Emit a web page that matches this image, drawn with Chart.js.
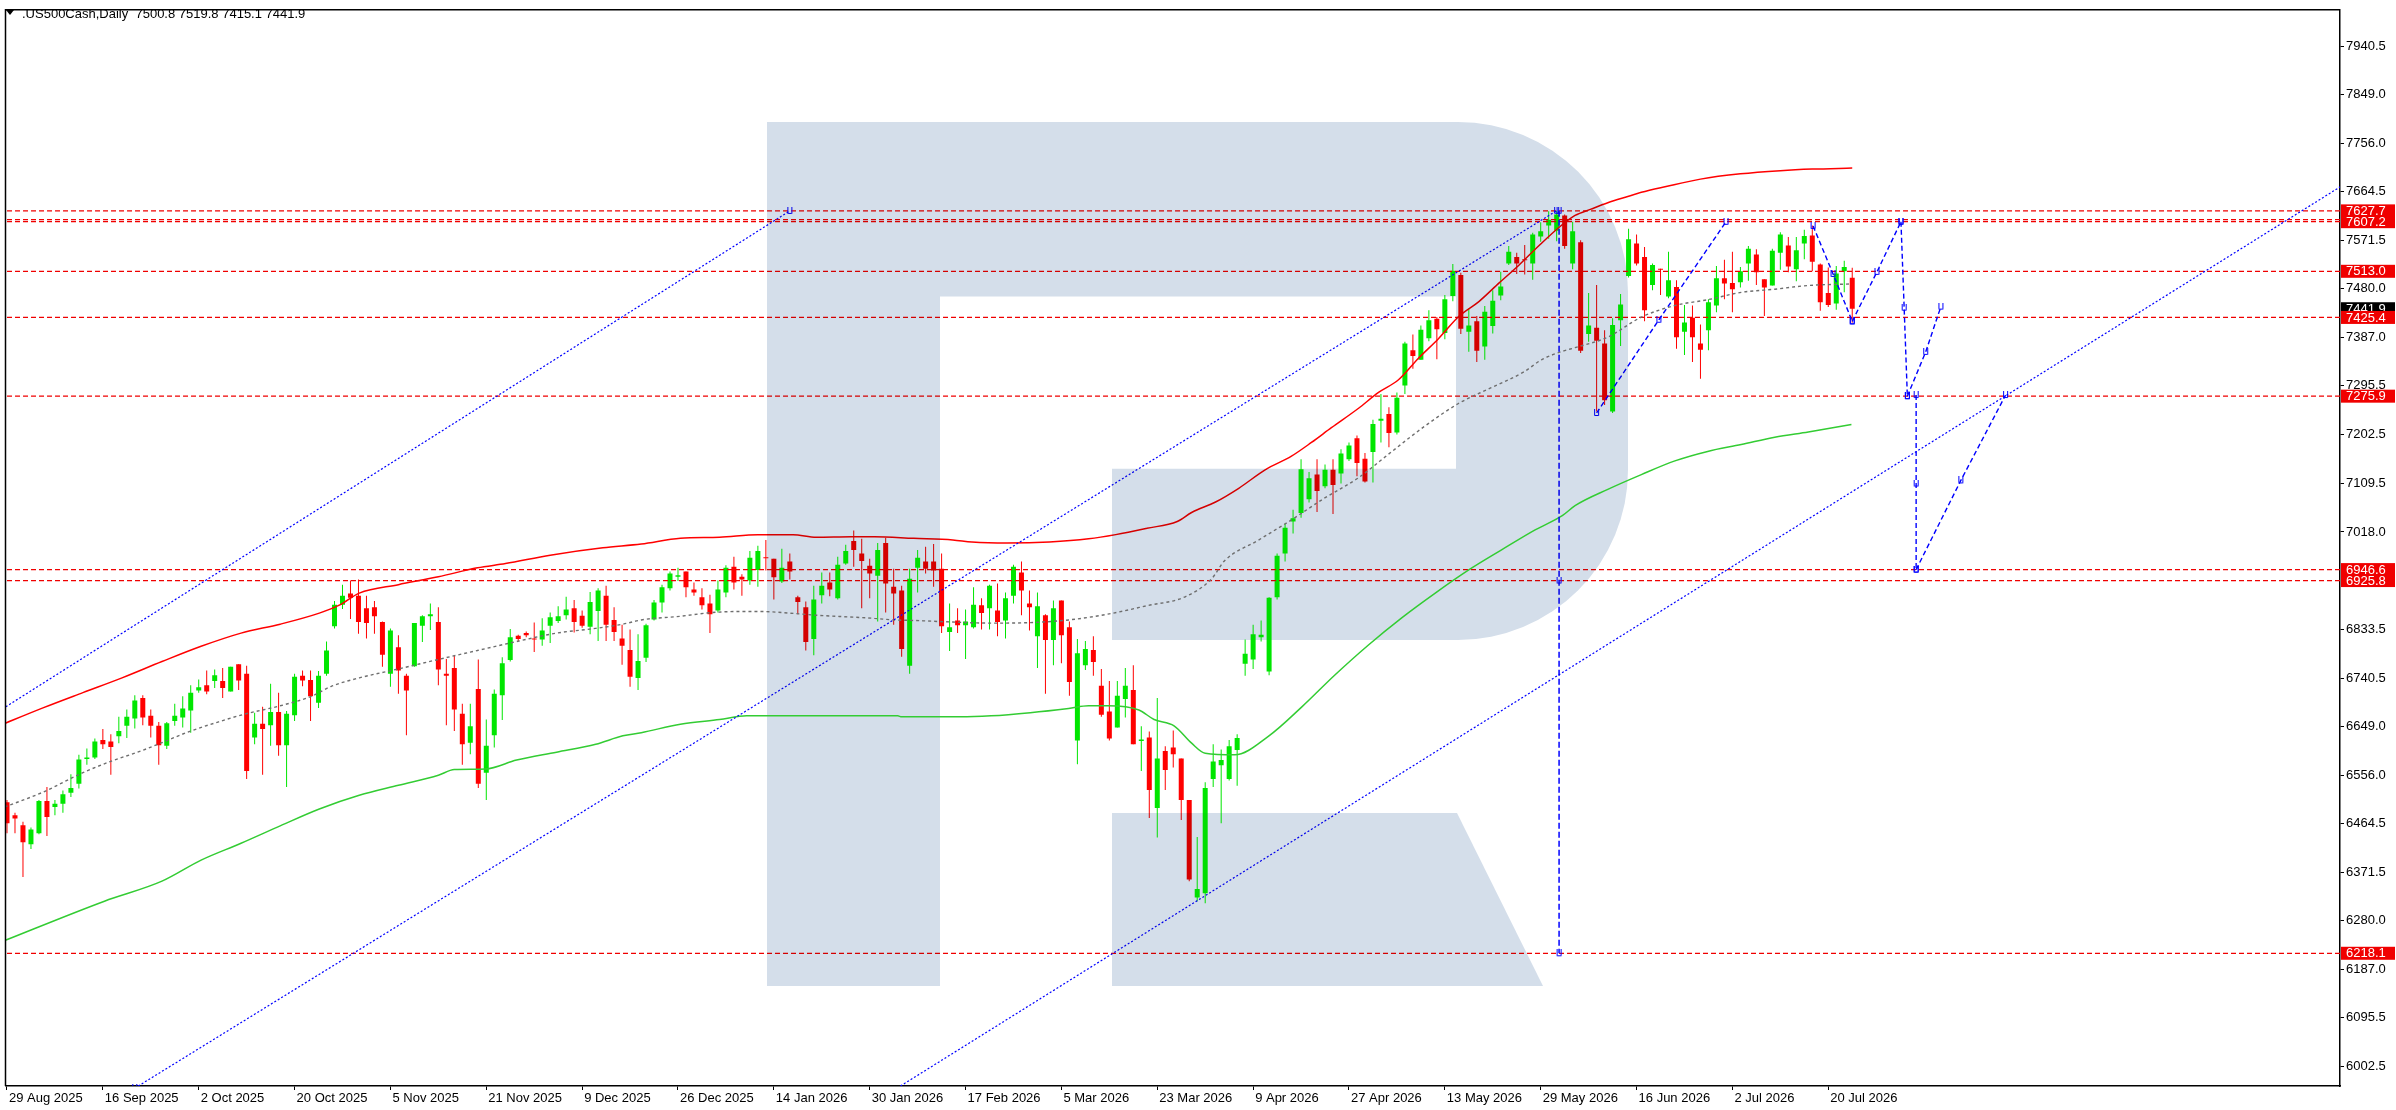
<!DOCTYPE html>
<html><head><meta charset="utf-8">
<script src="https://cdn.jsdelivr.net/npm/chart.js@4.4.1/dist/chart.umd.min.js"></script>
<style>html,body{margin:0;padding:0;background:#fff;overflow:hidden}canvas{display:block}</style>
</head><body>
<canvas id="c" width="2396" height="1110" style="width:2396px;height:1110px"></canvas>
<script>
const symbolTitle = '.US500Cash,Daily';

const opens = [6505,6480,6461,6425,6446,6507,6496,6502,6523,6540,6587,6590,6623,6620,6630,6650,6664,6703,6669,6650,
6612,6659,6666,6679,6717,6727,6735,6735,6715,6767,6749,6628,6654,6651,6676,6613,6670,6745,6737,6694,
6749,6839,6880,6901,6897,6873,6875,6847,6749,6799,6745,6763,6840,6858,6847,6749,6760,6673,6618,6720,
6561,6632,6708,6775,6821,6826,6816,6814,6840,6849,6860,6873,6859,6838,6868,6897,6851,6816,6794,6741,
6779,6852,6884,6911,6933,6943,6909,6894,6882,6869,6903,6952,6933,6926,6946,6969,6967,6924,6962,6894,
6875,6815,6898,6922,6892,6958,7001,6977,6954,6935,6997,6914,6907,6764,6950,6962,6962,6948,6828,6850,
6841,6837,6879,6873,6869,6850,6897,6941,6882,6820,6860,6813,6888,6837,6622,6765,6794,6726,6677,6647,
6701,6718,6621,6628,6494,6602,6609,6588,6509,6324,6332,6549,6575,6549,6604,6768,6776,6818,6753,6894,
6977,7038,7054,7080,7127,7105,7136,7129,7156,7196,7157,7170,7229,7242,7207,7296,7363,7345,7386,7423,
7396,7466,7506,7398,7418,7370,7409,7467,7528,7540,7536,7528,7579,7600,7590,7619,7528,7568,7394,7406,
7376,7247,7420,7504,7566,7540,7487,7517,7465,7483,7398,7425,7376,7401,7448,7500,7491,7492,7528,7545,
7498,7486,7548,7562,7517,7566,7581,7526,7472,7452,7513,7500.8];
const highs = [6509,6485,6468,6457,6509,6534,6509,6527,6558,6595,6607,6626,6644,6634,6667,6681,6708,6708,6681,6657,
6657,6692,6706,6727,6738,6755,6757,6760,6762,6767,6764,6675,6686,6730,6713,6678,6749,6755,6755,6754,
6810,6887,6918,6926,6928,6897,6887,6848,6835,6822,6749,6845,6860,6882,6875,6777,6784,6692,6692,6776,
6662,6719,6780,6834,6823,6829,6846,6854,6865,6877,6895,6889,6869,6904,6911,6916,6875,6842,6833,6824,
6844,6889,6918,6943,6950,6943,6922,6911,6899,6926,6955,6971,6938,6982,6992,7003,6967,6986,6977,6897,
6886,6916,6941,6941,6971,6994,7021,7005,6967,6997,7007,6948,6916,6948,6984,6990,6995,6977,6882,6873,
6871,6913,6892,6918,6920,6903,6956,6962,6907,6903,6862,6888,6888,6848,6815,6811,6820,6758,6735,6735,
6760,6765,6649,6639,6703,6611,6641,6588,6509,6439,6543,6615,6605,6623,6634,6814,6842,6850,6894,6977,
7034,7060,7156,7132,7156,7146,7156,7175,7188,7201,7168,7231,7280,7255,7283,7379,7393,7410,7439,7426,
7468,7527,7510,7443,7428,7447,7477,7512,7561,7548,7563,7586,7606,7627,7628,7621,7607,7572,7472,7487,
7401,7424,7470,7594,7583,7559,7528,7518,7550,7496,7449,7448,7412,7460,7523,7535,7550,7521,7561,7555,
7498,7556,7587,7578,7578,7592,7600,7528,7520,7523,7533,7519.8];
const lows = [6446,6446,6363,6416,6444,6441,6480,6485,6515,6531,6576,6587,6606,6557,6617,6627,6645,6651,6628,6576,
6606,6650,6647,6637,6713,6710,6722,6703,6715,6718,6549,6615,6557,6612,6593,6534,6659,6725,6659,6684,
6745,6835,6872,6853,6825,6816,6825,6762,6724,6711,6632,6762,6809,6832,6727,6651,6640,6576,6596,6532,
6509,6609,6661,6772,6810,6818,6790,6802,6807,6845,6852,6827,6836,6824,6811,6811,6811,6766,6724,6718,
6771,6850,6865,6907,6925,6894,6897,6871,6826,6865,6894,6909,6897,6918,6914,6945,6890,6921,6928,6862,
6793,6784,6882,6896,6890,6956,6952,6873,6892,6848,6865,6842,6781,6749,6903,6939,6914,6826,6792,6826,
6777,6835,6833,6833,6820,6816,6882,6860,6831,6760,6711,6765,6769,6707,6577,6756,6745,6667,6622,6647,
6666,6615,6564,6475,6438,6528,6571,6471,6355,6317,6313,6534,6465,6546,6536,6745,6758,6810,6746,6890,
6962,7015,7045,7074,7056,7101,7052,7110,7153,7124,7112,7112,7188,7179,7203,7280,7328,7345,7380,7346,
7384,7456,7394,7360,7341,7345,7395,7458,7525,7508,7507,7497,7569,7575,7570,7556,7517,7358,7379,7247,
7259,7244,7371,7501,7524,7418,7477,7468,7462,7366,7354,7341,7309,7363,7435,7460,7435,7482,7495,7487,
7428,7486,7516,7511,7494,7536,7513,7438,7445,7440,7473,7415.1];
const closes = [6465,6474,6429,6453,6507,6477,6502,6520,6532,6586,6590,6620,6615,6610,6640,6667,6698,6666,6650,6613,
6655,6669,6683,6713,6723,6715,6746,6722,6762,6736,6564,6654,6644,6676,6613,6673,6743,6736,6706,6745,
6793,6880,6897,6893,6847,6845,6858,6785,6831,6755,6717,6845,6858,6862,6757,6745,6681,6615,6649,6540,
6612,6711,6769,6818,6815,6822,6814,6831,6856,6858,6871,6847,6840,6885,6907,6842,6828,6802,6743,6773,
6841,6884,6913,6939,6936,6913,6903,6879,6862,6909,6950,6922,6928,6969,6982,6968,6932,6950,6943,6885,
6809,6890,6916,6909,6956,6982,6984,6963,6939,6984,6920,6901,6796,6929,6969,6948,6945,6839,6837,6841,
6848,6880,6864,6916,6847,6892,6952,6907,6875,6877,6813,6873,6822,6733,6788,6796,6771,6671,6626,6707,
6726,6615,6624,6528,6588,6566,6596,6509,6358,6340,6532,6582,6585,6611,6627,6787,6824,6823,6893,6973,
7026,7044,7137,7120,7096,7136,7107,7167,7182,7149,7114,7223,7233,7206,7273,7376,7352,7402,7420,7403,
7460,7514,7404,7410,7362,7436,7457,7484,7550,7528,7534,7583,7589,7611,7621,7561,7589,7362,7410,7381,
7268,7411,7450,7574,7528,7439,7525,7516,7496,7388,7416,7388,7364,7454,7500,7490,7479,7513,7556,7511,
7482,7552,7583,7522,7553,7580,7531,7454,7449,7509,7521,7441.9];

const dateTickBars = [0,12,24,36,48,60,72,84,96,108,120,132,144,156,168,180,192,204,216,228];
const dateTickLabels = ['29 Aug 2025','16 Sep 2025','2 Oct 2025','20 Oct 2025','5 Nov 2025','21 Nov 2025','9 Dec 2025',
 '26 Dec 2025','14 Jan 2026','30 Jan 2026','17 Feb 2026','5 Mar 2026','23 Mar 2026','9 Apr 2026','27 Apr 2026',
 '13 May 2026','29 May 2026','16 Jun 2026','2 Jul 2026','20 Jul 2026'];
const priceTicks = [7940.5,7849.0,7756.0,7664.5,7571.5,7480.0,7387.0,7295.5,7202.5,7109.5,7018.0,
 6833.5,6740.5,6649.0,6556.0,6464.5,6371.5,6280.0,6187.0,6095.5,6002.5];

const levelLines = [7627.7,7611.0,7607.2,7513.0,7425.4,7275.9,6946.6,6925.8,6218.1];
const levelLabels = [7627.7,7607.2,7513.0,7425.4,7275.9,6946.6,6925.8,6218.1];

// moving averages read at sample bars: [bar, value]
const maRed = [[-1,6650],[4.5,6684],[9.5,6713],[14.4,6741],[19.4,6772],[24.3,6801],[29.3,6826],[34.2,6843],[39.1,6864],
 [41.6,6879],[44.1,6902],[49,6918],[54,6933],[58.9,6950],[62.4,6958],[68,6974],[74.6,6988],[79.4,6995],[84.3,7006],
 [89.2,7008],[94,7013],[98.4,7013],[101.3,7008],[105.7,7009],[108.6,7009],[113.5,7006],[118.4,7003],[120.8,6999],
 [125.2,6997],[130.5,6999],[135.4,7005],[138.8,7013],[142.7,7025],[146.5,7038],[148.3,7055],[151.3,7075],[154.2,7101],
 [157.5,7136],[160.8,7162],[163.3,7188],[165.8,7216],[169.2,7253],[171.7,7283],[174.2,7307],[176.7,7348],[179.2,7385],
 [181.8,7428],[184.3,7456],[186.8,7491],[189.3,7525],[191.8,7562],[194.5,7599],[196.3,7619],[198.3,7631],[200.4,7643],
 [202.9,7655],[204.6,7663],[207.7,7674],[212,7688],[217,7698],[222,7704],[226,7707],[231,7709]];
const maGray = [[-1,6492],[4.5,6524],[9.5,6561],[12.9,6582],[16.9,6603],[19.4,6618],[22.8,6639],[26.8,6659],[29.7,6672],
 [34.2,6688],[38.1,6706],[40.6,6725],[44.1,6741],[49,6758],[54,6776],[58.9,6793],[63.8,6810],[68.8,6826],[73.7,6835],
 [77.1,6843],[79.4,6851],[84.3,6858],[88.2,6865],[91.6,6867],[94.5,6867],[97.9,6864],[101.3,6860],[103.7,6858],
 [108.6,6854],[111,6851],[113.5,6850],[118.4,6847],[123.2,6845],[128.1,6846],[132.9,6851],[137.8,6862],[142.7,6878],
 [147.5,6895],[150.8,6929],[152.4,6963],[156.6,7002],[160.8,7041],[164.9,7082],[169.1,7120],[173.3,7170],[177.4,7218],
 [181.6,7261],[185.8,7292],[189.9,7322],[192.1,7345],[194.5,7360],[196.3,7368],[200.4,7388],[204.6,7426],[208.8,7448],
 [212.9,7459],[217.1,7473],[221.3,7479],[225.5,7486],[230.9,7489]];
const maGreen = [[-1,6238],[12.2,6317],[19.4,6355],[24.3,6395],[29.3,6427],[34.2,6460],[39.1,6492],[44.1,6518],[49,6537],
 [54,6556],[56,6567],[59.9,6568],[63.8,6585],[68.8,6600],[73.7,6615],[77.1,6631],[79.4,6637],[84.3,6653],[89.2,6662],
 [92.6,6669],[98.9,6669],[111.5,6669],[112,6667],[119.3,6667],[123.2,6669],[128.1,6675],[132.9,6683],[135.4,6688],
 [137.8,6688],[141.7,6680],[143.6,6662],[146.1,6650],[148.3,6617],[150,6598],[153.7,6595],[157.9,6630],[162.1,6686],
 [166.2,6746],[170.4,6803],[174.6,6855],[178.8,6902],[182.9,6945],[187.1,6984],[191.3,7022],[194.7,7049],[196.3,7068],
 [200.4,7099],[204.6,7127],[208.8,7153],[212.9,7171],[217.1,7184],[221.3,7198],[225.5,7208],[230.9,7222]];

// trend / channel lines: [bar, price]
const channelUpperOuter = [[-1,6678],[98,7627.7]];
const channelUpper = [[16,5962],[194,7628]];
const channelLower = [[111,5958],[293,7682]];
// analysis / forecast lines: [bar, price]
const peakDrop = [[194.3,7628],[194.3,6925.8],[194.3,6218.1]];
const juneRally = [[199,7244],[206.8,7421],[215.2,7607]];
const julyDrop = [[226.1,7599],[228.6,7508],[231,7418]];
const fcUp = [[231,7418],[234.1,7512],[237.1,7607.2]];
const fcDown = [[237.1,7607.2],[237.5,7444],[237.9,7275.9]];
const fcBounce = [[237.9,7275.9],[240.2,7360],[242.1,7446]];
const fcDeep = [[239,7278],[239,7110],[239,6946.6]];
const fcRecover = [[239,6946.6],[244.6,7116],[250.2,7278]];

// ---------------------------------------------------------------
Chart.defaults.font.family = '"Liberation Sans", Arial, sans-serif';
Chart.defaults.font.size = 13;
Chart.defaults.color = '#000';

const bull = '#00e600', bear = '#ff0000';
const candleColors = opens.map((o,i)=> closes[i] >= o ? bull : bear);
const wickData = opens.map((o,i)=>({x:i, y:[lows[i], highs[i]]}));
const bodyData = opens.map((o,i)=>({x:i, y:[o, closes[i]]}));
const pts = a => a.map(p=>({x:p[0], y:p[1]}));

function makeBracket(){
  const c = document.createElement('canvas'); c.width = 7; c.height = 8;
  const g = c.getContext('2d'); g.strokeStyle = '#0000ff'; g.lineWidth = 1;
  g.beginPath(); g.moveTo(1.5,0); g.lineTo(1.5,6.5); g.lineTo(5.5,6.5); g.lineTo(5.5,0); g.stroke();
  return c;
}
const bracket = makeBracket();

function blueLine(data, dash, width){
  return {type:'line', data: pts(data), borderColor:'#0000ff', borderWidth: width, borderDash: dash,
    pointStyle: bracket, pointRadius: 3, tension: 0, order: 1, clip: 0};
}
const datasets = [];
levelLines.forEach(v=>{
  datasets.push({type:'line', data:[{x:-2,y:v},{x:300,y:v}], borderColor:'#f00000', borderWidth:1.3,
    borderDash:[5,3], pointRadius:0, order: 3});
});
datasets.push({type:'line', data: pts(maGreen), borderColor:'#33cc33', borderWidth:1.5, pointRadius:0, cubicInterpolationMode:'monotone', order:2});
datasets.push({type:'line', data: pts(maRed), borderColor:'#ff0000', borderWidth:1.5, pointRadius:0, cubicInterpolationMode:'monotone', order:2});
datasets.push({type:'line', data: pts(maGray), borderColor:'#6e6e6e', borderWidth:1.4, borderDash:[3,3], pointRadius:0, cubicInterpolationMode:'monotone', order:2});
datasets.push(blueLine(channelUpperOuter,[2,2],1.2));
datasets.push(blueLine(channelUpper,[2,2],1.2));
datasets.push(blueLine(channelLower,[2,2],1.2));
datasets.push(blueLine(peakDrop,[6,3],1.5));
datasets.push(blueLine(juneRally,[5,3],1.4));
datasets.push(blueLine(julyDrop,[5,3],1.4));
datasets.push(blueLine(fcUp,[5,3],1.4));
datasets.push(blueLine(fcDown,[5,3],1.4));
datasets.push(blueLine(fcBounce,[5,3],1.4));
datasets.push(blueLine(fcDeep,[5,3],1.4));
datasets.push(blueLine(fcRecover,[5,3],1.4));
datasets.push({type:'bar', data: wickData, backgroundColor: candleColors, barThickness:1, grouped:false,
  borderWidth:0, inflateAmount:0, order:5});
datasets.push({type:'bar', data: bodyData, backgroundColor: candleColors, barThickness:5, grouped:false,
  minBarLength:1, borderWidth:0, inflateAmount:0, order:4});

const watermarkPlugin = {
  id:'watermark',
  afterDatasetsDraw(chart){
    const ctx = chart.ctx;
    ctx.save();
    ctx.globalCompositeOperation = 'darken';
    ctx.fillStyle = '#d4deea';
    ctx.beginPath();
    ctx.rect(767,122,173,864);            // stem
    ctx.rect(767,122,692,174.5);          // top bar
    ctx.rect(1112,468.7,347,171.3);       // bowl bottom
    ctx.fill();
    ctx.beginPath();                      // rounded right part
    ctx.moveTo(1458,122);
    ctx.arc(1458,292,170,-Math.PI/2,0);
    ctx.lineTo(1628,470);
    ctx.arc(1458,470,170,0,Math.PI/2);
    ctx.lineTo(1456,640);
    ctx.lineTo(1456,122);
    ctx.closePath();
    ctx.fill();
    ctx.beginPath();                      // leg
    ctx.moveTo(1112,813); ctx.lineTo(1457,813); ctx.lineTo(1543,986); ctx.lineTo(1112,986);
    ctx.closePath(); ctx.fill();
    ctx.restore();
  }
};

const decorPlugin = {
  id:'decor',
  afterDraw(chart){
    const ctx = chart.ctx, a = chart.chartArea, ys = chart.scales.y;
    ctx.save();
    // frame top/left
    ctx.strokeStyle = '#000'; ctx.lineWidth = 1.5;
    ctx.beginPath(); ctx.moveTo(a.left, a.bottom); ctx.lineTo(a.left, a.top); ctx.lineTo(a.right, a.top); ctx.stroke();
    // header
    ctx.fillStyle = '#000';
    ctx.beginPath(); ctx.moveTo(6,10); ctx.lineTo(14,10); ctx.lineTo(10,15); ctx.closePath(); ctx.fill();
    ctx.font = '13px "Liberation Sans", Arial, sans-serif';
    ctx.textBaseline = 'alphabetic'; ctx.textAlign = 'left';
    const L = opens.length - 1;
    const f = v => v.toFixed(1);
    ctx.fillText(symbolTitle + '  ' + f(opens[L]) + ' ' + f(highs[L]) + ' ' + f(lows[L]) + ' ' + f(closes[L]), 22, 18);
    // price labels
    const box = (v, bg) => {
      const y = ys.getPixelForValue(v);
      ctx.fillStyle = bg; ctx.fillRect(a.right + 1, y - 6.5, 54, 13);
      ctx.fillStyle = '#fff'; ctx.textBaseline = 'middle'; ctx.fillText(f(v), a.right + 6, y + 0.5);
    };
    box(closes[L], '#000');
    levelLabels.forEach(v => box(v, '#f00000'));
    ctx.restore();
  }
};

new Chart(document.getElementById('c'), {
  type:'bar',
  data:{ datasets },
  options:{
    responsive:false, devicePixelRatio:1, animation:false, events:[],
    layout:{ padding:{left:2, top:2, right:0, bottom:0} },
    plugins:{ legend:{display:false}, tooltip:{enabled:false} },
    scales:{
      x:{ type:'linear', position:'bottom', offset:false, min:-0.1875, max:292.0625,
        afterBuildTicks: s => { s.ticks = dateTickBars.map(v=>({value:v})); },
        afterFit: s => { s.height = 24; },
        ticks:{ autoSkip:false, maxRotation:0, minRotation:0, align:'start', padding:1, labelOffset:2,
          callback: v => dateTickLabels[dateTickBars.indexOf(v)] },
        grid:{ drawOnChartArea:false, offset:false, tickLength:4, color:'#000' },
        border:{ display:true, color:'#000', width:1.5 } },
      y:{ type:'linear', position:'right', min:5966.1, max:8009.5,
        afterBuildTicks: s => { s.ticks = priceTicks.map(v=>({value:v})); },
        afterFit: s => { s.width = 56; },
        ticks:{ padding:2, callback: v => Number(v).toFixed(1) },
        grid:{ drawOnChartArea:false, tickLength:4, color:'#000' },
        border:{ display:true, color:'#000', width:1.5 } }
    }
  },
  plugins:[watermarkPlugin, decorPlugin]
});
</script>
</body></html>
